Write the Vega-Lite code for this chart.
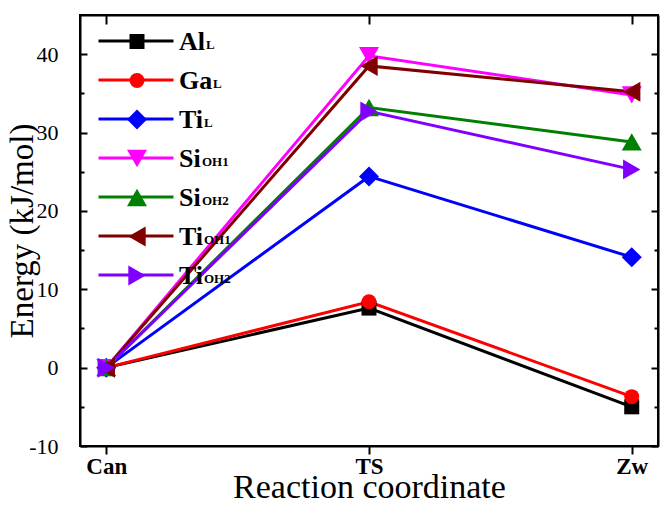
{
  "$schema": "https://vega.github.io/schema/vega-lite/v6.json",
  "width": 578,
  "height": 431,
  "autosize": {"type": "none"},
  "padding": {"left": 80, "top": 15, "right": 4, "bottom": 59},
  "background": "white",
  "config": {"view": {"stroke": "#000", "strokeWidth": 2}, "font": "Liberation Serif"},
  "data": {"values": [
    {"series": "AlL", "stage": "Can", "energy": 0},
    {"series": "AlL", "stage": "TS", "energy": 7.6},
    {"series": "AlL", "stage": "Zw", "energy": -5.0},
    {"series": "GaL", "stage": "Can", "energy": 0},
    {"series": "GaL", "stage": "TS", "energy": 8.4},
    {"series": "GaL", "stage": "Zw", "energy": -3.7},
    {"series": "TiL", "stage": "Can", "energy": 0},
    {"series": "TiL", "stage": "TS", "energy": 24.4},
    {"series": "TiL", "stage": "Zw", "energy": 14.1},
    {"series": "SiOH1", "stage": "Can", "energy": 0},
    {"series": "SiOH1", "stage": "TS", "energy": 39.8},
    {"series": "SiOH1", "stage": "Zw", "energy": 34.8},
    {"series": "SiOH2", "stage": "Can", "energy": 0},
    {"series": "SiOH2", "stage": "TS", "energy": 33.2},
    {"series": "SiOH2", "stage": "Zw", "energy": 28.8},
    {"series": "TiOH1", "stage": "Can", "energy": 0},
    {"series": "TiOH1", "stage": "TS", "energy": 38.5},
    {"series": "TiOH1", "stage": "Zw", "energy": 35.2},
    {"series": "TiOH2", "stage": "Can", "energy": 0},
    {"series": "TiOH2", "stage": "TS", "energy": 32.7},
    {"series": "TiOH2", "stage": "Zw", "energy": 25.3}
  ]},
  "layer": [
    {
      "mark": {"type": "line", "strokeWidth": 3},
      "encoding": {
        "x": {"field": "stage", "type": "nominal", "sort": ["Can", "TS", "Zw"],
          "scale": {"type": "point", "padding": 0.1},
          "axis": {"orient": "bottom", "title": "Reaction coordinate", "labelAngle": 0,
            "labelFont": "Liberation Serif", "labelFontWeight": "bold", "labelFontSize": 23, "labelColor": "#000",
            "tickSize": 8, "tickWidth": 2, "tickColor": "#000", "domainColor": "#000", "domainWidth": 2,
            "labelPadding": 1, "titleFont": "Liberation Serif", "titleFontSize": 34, "titleFontWeight": "normal",
            "titleColor": "#000", "titlePadding": -8}},
        "y": {"field": "energy", "type": "quantitative",
          "scale": {"domain": [-10, 45], "nice": false, "zero": false},
          "axis": {"orient": "left", "title": "Energy (kJ/mol)", "grid": false,
            "values": [-10, -5, 0, 5, 10, 15, 20, 25, 30, 35, 40],
            "labelExpr": "datum.value % 10 === 0 ? '' + datum.value : ''",
            "tickSize": {"condition": {"test": "datum.value % 10 === 0", "value": -7}, "value": -4},
            "tickWidth": 2, "tickColor": "#000", "domainColor": "#000", "domainWidth": 2,
            "labelFont": "Liberation Serif", "labelFontSize": 22, "labelColor": "#000", "labelPadding": 29,
            "titleFont": "Liberation Serif", "titleFontSize": 33, "titleFontWeight": "normal", "titleColor": "#000",
            "titlePadding": -11}},
        "stroke": {"field": "series", "type": "nominal",
          "sort": ["AlL", "GaL", "TiL", "SiOH1", "SiOH2", "TiOH1", "TiOH2"],
          "scale": {"range": ["#000000", "#ff0000", "#0000ff", "#ff00ff", "#008000", "#800000", "#8000ff"]},
          "legend": {"orient": "none", "legendX": 0, "legendY": 17, "title": null, "padding": 0,
            "symbolType": "M-5,0H5", "symbolSize": 225, "symbolStrokeWidth": 3, "symbolOffset": 47,
            "labelOffset": 30, "labelExpr": "slice(datum.label, 2)",
            "labelFont": "Liberation Serif", "labelFontSize": 13, "labelFontWeight": "bold", "labelColor": "#000",
            "labelBaseline": "alphabetic", "rowPadding": 19,
            "encode": {"labels": {"update": {"dy": {"value": 8}, "dx": {"signal": "datum.value === 'AlL' ? 31 : datum.value === 'GaL' ? 38 : (datum.value === 'TiL' || datum.value === 'TiOH1' || datum.value === 'TiOH2') ? 29 : 27"}}}}}}
      }
    },
    {
      "mark": {"type": "point", "filled": true, "size": 225, "opacity": 1, "strokeWidth": 0},
      "encoding": {
        "x": {"field": "stage", "type": "nominal", "sort": ["Can", "TS", "Zw"],
          "axis": {"orient": "top", "title": null, "labels": false, "tickSize": -9, "tickWidth": 2,
            "tickColor": "#000", "domainColor": "#000", "domainWidth": 2}},
        "y": {"field": "energy", "type": "quantitative",
          "axis": {"orient": "right", "title": null, "labels": false, "grid": false,
            "values": [-10, -5, 0, 5, 10, 15, 20, 25, 30, 35, 40],
            "tickSize": {"condition": {"test": "datum.value % 10 === 0", "value": -7}, "value": -4},
            "tickWidth": 2, "tickColor": "#000", "domainColor": "#000", "domainWidth": 2}},
        "fill": {"field": "series", "type": "nominal",
          "scale": {"domain": ["AlL", "GaL", "TiL", "SiOH1", "SiOH2", "TiOH1", "TiOH2"],
            "range": ["#000000", "#ff0000", "#0000ff", "#ff00ff", "#008000", "#800000", "#8000ff"]},
          "legend": {"orient": "none", "legendX": 0, "legendY": 13.5, "title": null, "padding": 0,
            "symbolSize": 225, "symbolOffset": 44, "symbolStrokeWidth": 0,
            "labelOffset": 29, "labelExpr": "slice(datum.label, 0, 2)",
            "labelFont": "Liberation Serif", "labelFontSize": 26, "labelFontWeight": "bold", "labelColor": "#000",
            "labelBaseline": "middle", "rowPadding": 13}},
        "shape": {"field": "series", "type": "nominal",
          "scale": {"domain": ["AlL", "GaL", "TiL", "SiOH1", "SiOH2", "TiOH1", "TiOH2"],
            "range": ["square", "circle", "M0,-1.333L1.333,0L0,1.333L-1.333,0Z", "M0,1.155L-1.333,-1.155L1.333,-1.155Z", "M0,-1.155L-1.333,1.155L1.333,1.155Z", "M-1.155,0L1.155,-1.333L1.155,1.333Z", "M1.155,0L-1.155,-1.333L-1.155,1.333Z"]},
          "legend": {"orient": "none", "legendX": 0, "legendY": 13.5, "title": null, "padding": 0,
            "symbolSize": 225, "symbolOffset": 44, "symbolStrokeWidth": 0,
            "labelOffset": 29, "labelExpr": "slice(datum.label, 0, 2)",
            "labelFont": "Liberation Serif", "labelFontSize": 26, "labelFontWeight": "bold", "labelColor": "#000",
            "labelBaseline": "middle", "rowPadding": 13}}
      }
    }
  ],
  "resolve": {"axis": {"x": "independent", "y": "independent"}}
}
